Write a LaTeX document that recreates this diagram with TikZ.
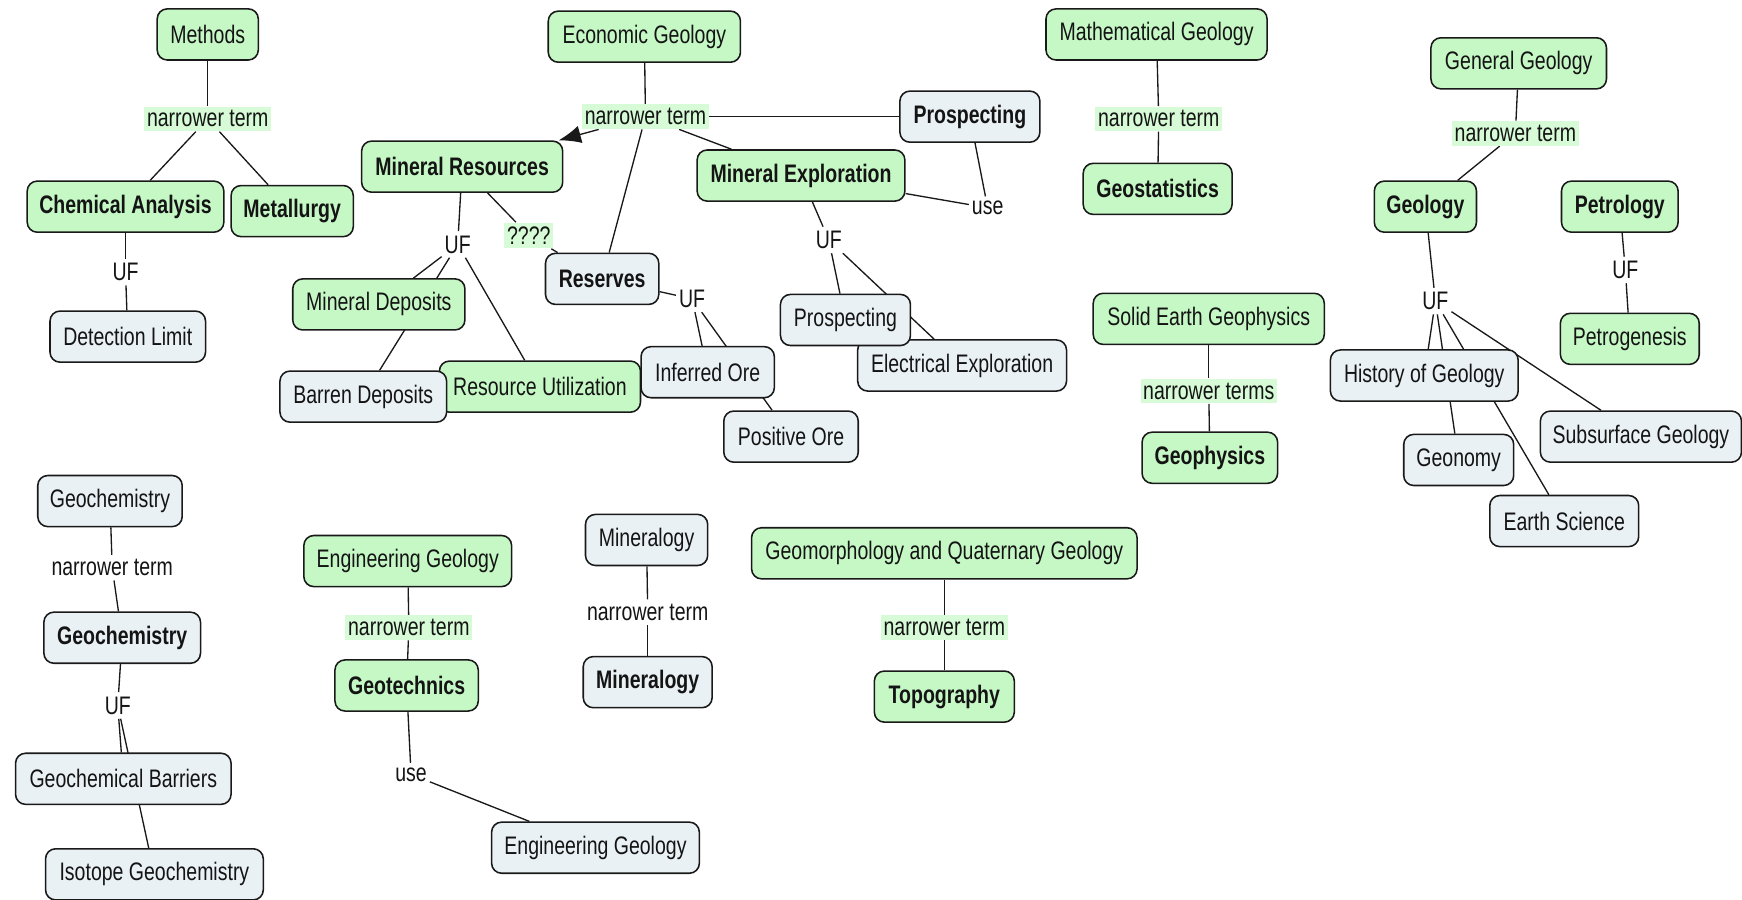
\documentclass[tikz,border=0pt]{standalone}
\usepackage{fontspec}
\setmainfont[FakeStretch=0.77]{Liberation Sans}
\usetikzlibrary{arrows.meta,backgrounds}
\definecolor{ngreen}{RGB}{198,248,198}
\definecolor{lgreen}{RGB}{214,251,214}
\definecolor{ngray}{RGB}{234,241,245}
\definecolor{linec}{RGB}{25,25,25}
\definecolor{txt}{RGB}{20,20,20}
\newcommand{\fsz}{\fontsize{11.4}{13}\selectfont}
\begin{document}
\begin{tikzpicture}[x=0.5pt,y=-0.5pt,
 box/.style={draw=linec,line width=0.7pt,rounded corners=4.5pt,minimum height=23pt,inner xsep=2pt,inner ysep=0pt,font=\fsz,text=txt},
 gbox/.style={box,fill=ngreen},
 ybox/.style={box,fill=ngray},
 bb/.style={font=\fsz\bfseries},
 bw/.style={minimum width=#1*0.5pt},
 lab/.style={fill=white,inner xsep=1.2pt,inner ysep=1.8pt,font=\fsz,text=txt},
 glab/.style={fill=lgreen,inner xsep=1.2pt,inner ysep=1.8pt,font=\fsz,text=txt},
 conn/.style={draw=linec,line width=0.6pt},
 ]
\useasboundingbox (0,0) rectangle (1568,810);
% concepts
\node[gbox,bw=91] (methods) at (187,31) {Methods};
\node[gbox,bw=173] (eco) at (580,33) {Economic Geology};
\node[gbox,bw=199] (math) at (1041,31) {Mathematical Geology};
\node[gbox,bw=158] (gen) at (1367,57) {General Geology};
\node[ybox,bb,bw=126] (prosp) at (873,105) {Prospecting};
\node[gbox,bb,bw=181] (minres) at (416,150) {Mineral Resources};
\node[gbox,bb,bw=187] (minexp) at (721,158) {Mineral Exploration};
\node[gbox,bb,bw=177] (chem) at (113,186) {Chemical Analysis};
\node[gbox,bb,bw=110] (metal) at (263,190) {Metallurgy};
\node[gbox,bb,bw=134] (geostat) at (1042,170) {Geostatistics};
\node[gbox,bb,bw=92] (geology) at (1283,186) {Geology};
\node[gbox,bb,bw=105] (petrol) at (1458,186) {Petrology};
\node[ybox,bb,bw=102] (reserves) at (542,251) {Reserves};
\node[gbox,bw=155] (mindep) at (341,274) {Mineral Deposits};
\node[ybox,bw=140] (detect) at (115,303) {Detection Limit};
\node[ybox,bw=188] (elec) at (866,329) {Electrical Exploration};
\node[ybox,bw=117] (prosp2) at (761,288) {Prospecting};
\node[gbox,bw=208] (solid) at (1088,287) {Solid Earth Geophysics};
\node[gbox,bw=125] (petrog) at (1467,305) {Petrogenesis};
\node[gbox,bw=181] (resutil) at (486,348) {Resource Utilization};
\node[ybox,bw=120] (infore) at (637,335) {Inferred Ore};
\node[ybox,bw=150] (barren) at (327,357) {Barren Deposits};
\node[ybox,bw=169] (hist) at (1282,338) {History of Geology};
\node[ybox,bw=121] (posore) at (712,393) {Positive Ore};
\node[gbox,bb,bw=122] (geophys) at (1089,412) {Geophysics};
\node[ybox,bw=181] (subsurf) at (1477,393) {Subsurface Geology};
\node[ybox,bw=99] (geonomy) at (1313,414) {Geonomy};
\node[ybox,bw=134] (earth) at (1408,469) {Earth Science};
\node[ybox,bw=130] (geoch) at (99,451) {Geochemistry};
\node[gbox,bw=187] (enggeo) at (367,505) {Engineering Geology};
\node[ybox,bw=110] (minlgy) at (582,486) {Mineralogy};
\node[gbox,bw=347] (geomorph) at (850,498) {Geomorphology and Quaternary Geology};
\node[ybox,bb,bw=141] (geochb) at (110,574) {Geochemistry};
\node[gbox,bb,bw=129] (geotech) at (366,617) {Geotechnics};
\node[ybox,bb,bw=116] (minlgyb) at (583,614) {Mineralogy};
\node[gbox,bb,bw=126] (topo) at (850,627) {Topography};
\node[ybox,bw=194] (gbarr) at (111,701) {Geochemical Barriers};
\node[ybox,bw=187] (enggeo2) at (536,763) {Engineering Geology};
\node[ybox,bw=196] (isotope) at (139,787) {Isotope Geochemistry};
% linking phrases
\node[glab] (nt1) at (187,107) {narrower term};
\node[glab] (nt2) at (581,105) {narrower term};
\node[glab] (nt3) at (1043,107) {narrower term};
\node[glab] (nt4) at (1364,120) {narrower term};
\node[lab] (uf1) at (113,245) {UF};
\node[lab] (uf2) at (412,220) {UF};
\node[glab] (q) at (476,212) {????};
\node[lab] (uf3) at (623,269) {UF};
\node[lab] (use1) at (889,187) {use};
\node[lab] (uf4) at (746,216) {UF};
\node[glab] (nts) at (1088,352) {narrower terms};
\node[lab] (uf5) at (1292,271) {UF};
\node[lab] (uf6) at (1463,243) {UF};
\node[lab] (nt5) at (101,511) {narrower term};
\node[lab] (uf7) at (106,635) {UF};
\node[glab] (nt6) at (368,565) {narrower term};
\node[lab] (use2) at (370,697) {use};
\node[lab] (nt7) at (583,551) {narrower term};
\node[glab] (nt8) at (850,565) {narrower term};
% connectors
\begin{pgfonlayer}{background}
\draw[conn] (methods) -- (nt1);
\draw[conn] (nt1) -- (chem);
\draw[conn] (nt1) -- (metal);
\draw[conn] (chem) -- (uf1);
\draw[conn] (uf1) -- (detect);
\draw[conn] (eco) -- (nt2);
\draw[conn,-{Latex[length=10pt,width=8pt]}] (nt2) -- (minres);
\draw[conn] (nt2) -- (reserves);
\draw[conn] (nt2) -- (minexp);
\draw[conn] (nt2) -- (prosp);
\draw[conn] (prosp) -- (use1);
\draw[conn] (minexp) -- (use1);
\draw[conn] (minexp) -- (uf4);
\draw[conn] (uf4) -- (prosp2);
\draw[conn] (uf4) -- (elec);
\draw[conn] (minres) -- (uf2);
\draw[conn] (uf2) -- (mindep);
\draw[conn] (uf2) -- (barren);
\draw[conn] (uf2) -- (resutil);
\draw[conn] (minres) -- (q);
\draw[conn] (q) -- (reserves);
\draw[conn] (reserves) -- (uf3);
\draw[conn] (uf3) -- (infore);
\draw[conn] (uf3) -- (posore);
\draw[conn] (math) -- (nt3);
\draw[conn] (nt3) -- (geostat);
\draw[conn] (gen) -- (nt4);
\draw[conn] (nt4) -- (geology);
\draw[conn] (geology) -- (uf5);
\draw[conn] (uf5) -- (hist);
\draw[conn] (uf5) -- (geonomy);
\draw[conn] (uf5) -- (earth);
\draw[conn] (uf5) -- (subsurf);
\draw[conn] (petrol) -- (uf6);
\draw[conn] (uf6) -- (petrog);
\draw[conn] (solid) -- (nts);
\draw[conn] (nts) -- (geophys);
\draw[conn] (geoch) -- (nt5);
\draw[conn] (nt5) -- (geochb);
\draw[conn] (geochb) -- (uf7);
\draw[conn] (uf7) -- (gbarr);
\draw[conn] (uf7) -- (isotope);
\draw[conn] (enggeo) -- (nt6);
\draw[conn] (nt6) -- (geotech);
\draw[conn] (geotech) -- (use2);
\draw[conn] (use2) -- (enggeo2);
\draw[conn] (minlgy) -- (nt7);
\draw[conn] (nt7) -- (minlgyb);
\draw[conn] (geomorph) -- (nt8);
\draw[conn] (nt8) -- (topo);
\end{pgfonlayer}
\end{tikzpicture}
\end{document}
